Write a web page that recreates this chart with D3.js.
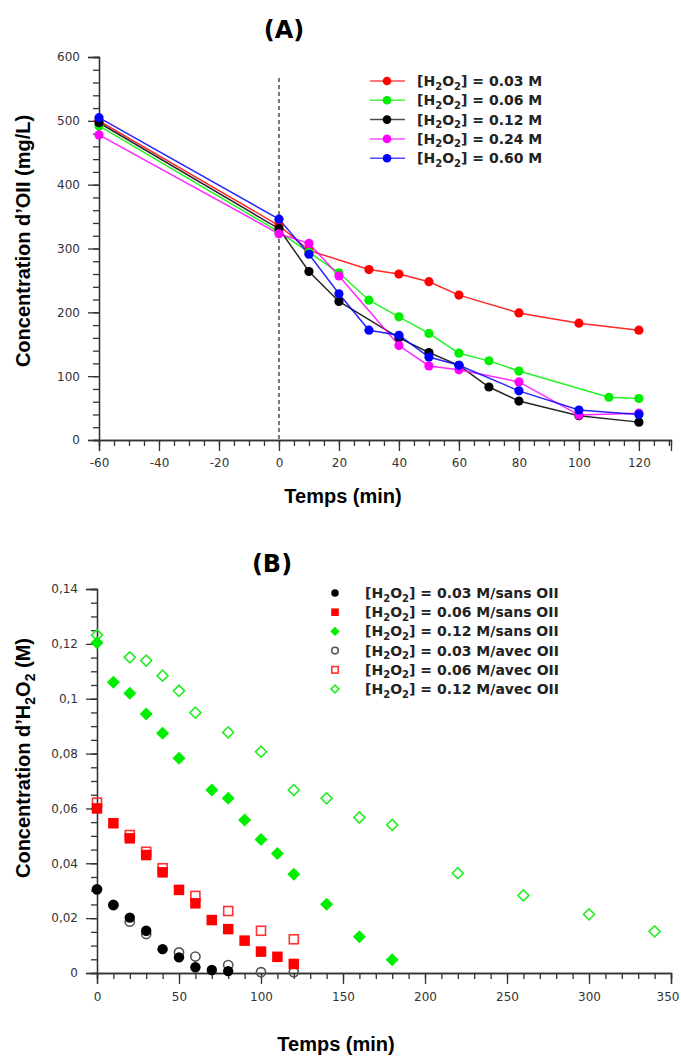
<!DOCTYPE html>
<html><head><meta charset="utf-8">
<script src="https://cdn.jsdelivr.net/npm/d3@7"></script>
<style>
html,body{margin:0;padding:0;background:#fff;}
svg{display:block;}
</style></head>
<body>
<svg id="chart" width="681" height="1058"></svg>
<script>
// ---------- Panel A data ----------
const seriesA = ["[H2O2] = 0.03 M","[H2O2] = 0.06 M","[H2O2] = 0.12 M","[H2O2] = 0.24 M","[H2O2] = 0.60 M"];
const labelsA = ["0.03","0.06","0.12","0.24","0.60"];
const colorsA = ["#ff0000","#00ee00","#000000","#ff00ff","#0000ff"];
const timeRed     = [-60, 0, 10, 30, 40, 50, 60, 80, 100, 120];
const valRed      = [500, 336, 297, 267, 260, 248, 227, 199, 183, 172];
const timeGreen   = [-60, 0, 10, 20, 30, 40, 50, 60, 70, 80, 110, 120];
const valGreen    = [492, 326, 294, 262, 219, 193, 167, 136, 124, 108, 67, 65];
const timeBlack   = [-60, 0, 10, 20, 40, 50, 60, 70, 80, 100, 120];
const valBlack    = [497, 331, 264, 217, 160, 137, 117, 83, 61, 38, 28];
const timeMagenta = [-60, 0, 10, 20, 40, 50, 60, 80, 100, 120];
const valMagenta  = [478, 323, 308, 257, 148, 116, 110, 91, 39, 42];
const timeBlue    = [-60, 0, 10, 20, 30, 40, 50, 60, 80, 100, 120];
const valBlue     = [505, 346, 291, 229, 172, 164, 130, 117, 77, 47, 40];
const xTicksA = [-60, -40, -20, 0, 20, 40, 60, 80, 100, 120];
const yTicksA = [0, 100, 200, 300, 400, 500, 600];

// ---------- Panel B data ----------
const timeSans03 = [0, 10, 20, 30, 40, 50, 60, 70, 80];
const valSans03  = [0.0305, 0.0248, 0.0202, 0.0154, 0.0087, 0.0057, 0.0021, 0.0011, 0.0007];
const timeSans06 = [0, 10, 20, 30, 40, 50, 60, 70, 80, 90, 100, 110, 120];
const valSans06  = [0.0600, 0.0546, 0.0491, 0.0430, 0.0367, 0.0303, 0.0254, 0.0193, 0.0160, 0.0118, 0.0078, 0.0059, 0.0033];
const timeSans12 = [0, 10, 20, 30, 40, 50, 70, 80, 90, 100, 110, 120, 140, 160, 180];
const valSans12  = [0.1204, 0.1060, 0.1020, 0.0944, 0.0874, 0.0783, 0.0667, 0.0637, 0.0558, 0.0487, 0.0436, 0.0360, 0.0251, 0.0132, 0.0048];
const timeAvec03 = [0, 10, 20, 30, 50, 60, 80, 100, 120];
const valAvec03  = [0.0305, 0.0248, 0.0187, 0.0142, 0.0075, 0.0060, 0.0029, 0.0003, 0.0003];
const timeAvec06 = [0, 20, 30, 40, 60, 80, 100, 120];
const valAvec06  = [0.0621, 0.0503, 0.0442, 0.0382, 0.0281, 0.0226, 0.0154, 0.0123];
const timeAvec12 = [0, 20, 30, 40, 50, 60, 80, 100, 120, 140, 160, 180, 220, 260, 300, 340];
const valAvec12  = [0.1232, 0.1151, 0.1139, 0.1084, 0.1029, 0.0949, 0.0877, 0.0807, 0.0667, 0.0637, 0.0567, 0.0540, 0.0364, 0.0283, 0.0214, 0.0152];
const seriesBConc = ["0.03","0.06","0.12","0.03","0.06","0.12"];
const seriesBType = ["sans OII","sans OII","sans OII","avec OII","avec OII","avec OII"];
const xTicksB = [0, 50, 100, 150, 200, 250, 300, 350];
const yTicksB = [0, 0.02, 0.04, 0.06, 0.08, 0.1, 0.12, 0.14];

const svg = d3.select("#chart");
const tickFont = "'DejaVu Sans', Verdana, sans-serif";
const titleFont = "'Liberation Sans', Arial, sans-serif";
const axisColor = "#333";

function styleAxis(g){
  g.select(".domain").attr("stroke", axisColor).attr("stroke-width", 1.3);
  g.selectAll(".tick line").attr("stroke", axisColor).attr("stroke-width", 1.3);
  g.selectAll(".tick text").attr("fill", "#333").style("font-family", tickFont).style("font-size", "12px");
}

function h2o2(sel, prefix, suffix, fs){
  sel.append("tspan").text(prefix + "[H");
  sel.append("tspan").text("2").attr("font-size", fs*0.72).attr("dy", fs*0.25);
  sel.append("tspan").text("O").attr("dy", -fs*0.25);
  sel.append("tspan").text("2").attr("font-size", fs*0.72).attr("dy", fs*0.25);
  sel.append("tspan").text("]" + suffix).attr("dy", -fs*0.25);
}

// ================= PANEL A =================
const xA = d3.scaleLinear().domain([-60, 130.7]).range([99, 671]);
const yA = d3.scaleLinear().domain([0, 600]).range([440, 57]);

const gA = svg.append("g");
gA.append("g").attr("transform", "translate(0,440)")
  .call(d3.axisBottom(xA).tickValues(d3.range(-60, 131, 5)).tickSize(6).tickFormat(""))
  .call(styleAxis);
gA.append("g").attr("transform", "translate(99,0)")
  .call(d3.axisLeft(yA).tickValues(d3.range(0, 601, 20)).tickSize(6).tickFormat(""))
  .call(styleAxis);
gA.append("g").attr("transform", "translate(0,440)")
  .call(d3.axisBottom(xA).tickValues(xTicksA).tickSize(11).tickPadding(7).tickFormat(d => String(d)))
  .call(styleAxis);
gA.append("g").attr("transform", "translate(99,0)")
  .call(d3.axisLeft(yA).tickValues(yTicksA).tickSize(11).tickPadding(8).tickFormat(d => String(d)))
  .call(styleAxis);

gA.append("line")
  .attr("x1", xA(0)).attr("x2", xA(0)).attr("y1", 78).attr("y2", 440)
  .attr("stroke", "#777").attr("stroke-width", 2).attr("stroke-dasharray", "4,3");

const dataA = [
  [timeRed, valRed], [timeGreen, valGreen], [timeBlack, valBlack],
  [timeMagenta, valMagenta], [timeBlue, valBlue]
];
const lineA = d3.line().x(d => xA(d[0])).y(d => yA(d[1]));
dataA.forEach((s, i) => {
  const pts = s[0].map((t, j) => [t, s[1][j]]);
  gA.append("path").datum(pts).attr("d", lineA)
    .attr("fill", "none").attr("stroke", colorsA[i]).attr("stroke-width", 1.5).attr("stroke-opacity", 0.85);
});
dataA.forEach((s, i) => {
  const pts = s[0].map((t, j) => [t, s[1][j]]);
  gA.selectAll(null).data(pts).enter().append("circle")
    .attr("cx", d => xA(d[0])).attr("cy", d => yA(d[1])).attr("r", 4.6)
    .attr("fill", colorsA[i]);
});

labelsA.forEach((lab, i) => {
  const yy = 81 + i * 19.3;
  gA.append("line").attr("x1", 370).attr("x2", 405).attr("y1", yy).attr("y2", yy)
    .attr("stroke", colorsA[i]).attr("stroke-width", 1.5).attr("stroke-opacity", 0.7);
  gA.append("circle").attr("cx", 387).attr("cy", yy).attr("r", 4.3).attr("fill", colorsA[i]);
  const t = gA.append("text").attr("x", 417).attr("y", yy + 5)
    .style("font-family", tickFont).style("font-size", "14px").style("font-weight", "bold").attr("fill", "#222");
  h2o2(t, "", " = " + lab + " M", 14);
});

svg.append("text").attr("x", 284).attr("y", 38).attr("text-anchor", "middle")
  .style("font-family", tickFont).style("font-weight", "bold").style("font-size", "24px").text("(A)");
svg.append("text").attr("x", 343).attr("y", 503).attr("text-anchor", "middle")
  .style("font-family", titleFont).style("font-weight", "bold").style("font-size", "20px").text("Temps (min)");
svg.append("text").attr("transform", "translate(30,241) rotate(-90)").attr("text-anchor", "middle")
  .style("font-family", titleFont).style("font-weight", "bold").style("font-size", "20px")
  .text("Concentration d\u2019OII (mg/L)");

// ================= PANEL B =================
const xB = d3.scaleLinear().domain([0, 350]).range([97, 671]);
const yB = d3.scaleLinear().domain([0, 0.14]).range([973, 589]);
const gB = svg.append("g");
const commaFmt = d => d === 0 ? "0" : String(+d.toFixed(2)).replace(".", ",");

gB.append("g").attr("transform", "translate(0,973)")
  .call(d3.axisBottom(xB).tickValues(d3.range(0, 351, 10)).tickSize(6).tickFormat(""))
  .call(styleAxis);
gB.append("g").attr("transform", "translate(97,0)")
  .call(d3.axisLeft(yB).tickValues(d3.range(0, 28.5, 1).map(k => k * 0.005)).tickSize(6).tickFormat(""))
  .call(styleAxis);
const xAxB = gB.append("g").attr("transform", "translate(0,973)")
  .call(d3.axisBottom(xB).tickValues(xTicksB).tickSize(11).tickPadding(8).tickFormat(d => String(d)))
  .call(styleAxis);
// keep the last label inside the page edge
xAxB.selectAll(".tick text").filter(d => d === 350).attr("dx", -3.5);
gB.append("g").attr("transform", "translate(97,0)")
  .call(d3.axisLeft(yB).tickValues(yTicksB).tickSize(11).tickPadding(8).tickFormat(commaFmt))
  .call(styleAxis);

const sqSide = 10.5, dmSide = 9.2;
const markerDefs = [
  {t: timeSans03, v: valSans03, kind: "circle", fill: "#000", stroke: "none"},
  {t: timeSans06, v: valSans06, kind: "square", fill: "#ff0000", stroke: "none"},
  {t: timeSans12, v: valSans12, kind: "diamond", fill: "#00ee00", stroke: "none"},
  {t: timeAvec03, v: valAvec03, kind: "circle", fill: "none", stroke: "#555"},
  {t: timeAvec06, v: valAvec06, kind: "square", fill: "none", stroke: "#ff3333"},
  {t: timeAvec12, v: valAvec12, kind: "diamond", fill: "none", stroke: "#22ee22"}
];
function drawMarker(g, kind, cx, cy, fill, stroke, scale){
  const filled = stroke === "none";
  if (kind === "circle") {
    g.append("circle").attr("cx", cx).attr("cy", cy).attr("r", (filled ? 5.2 : 4.6) * scale)
      .attr("fill", fill).attr("stroke", stroke).attr("stroke-width", 1.6);
  } else if (kind === "square") {
    const s = (filled ? sqSide : sqSide - 1.5) * scale;
    g.append("rect").attr("x", cx - s/2).attr("y", cy - s/2).attr("width", s).attr("height", s)
      .attr("fill", fill).attr("stroke", stroke).attr("stroke-width", 1.6);
  } else {
    const s = (filled ? dmSide : dmSide - 1.4) * scale;
    g.append("rect").attr("x", -s/2).attr("y", -s/2).attr("width", s).attr("height", s)
      .attr("transform", `translate(${cx},${cy}) rotate(45)`)
      .attr("fill", fill).attr("stroke", stroke).attr("stroke-width", 1.6);
  }
}
[3,4,5,0,1,2].forEach(i => {
  const m = markerDefs[i];
  m.t.forEach((t, j) => drawMarker(gB, m.kind, xB(t), yB(m.v[j]), m.fill, m.stroke, 1));
});

markerDefs.forEach((m, i) => {
  const yy = 593 + i * 19.2;
  drawMarker(gB, m.kind, 335, yy, m.fill, m.stroke, 0.72);
  const t = gB.append("text").attr("x", 365).attr("y", yy + 5)
    .style("font-family", tickFont).style("font-size", "14px").style("font-weight", "bold").attr("fill", "#222");
  h2o2(t, "", " = " + seriesBConc[i] + " M/" + seriesBType[i], 14);
});

svg.append("text").attr("x", 272).attr("y", 572).attr("text-anchor", "middle")
  .style("font-family", tickFont).style("font-weight", "bold").style("font-size", "24px").text("(B)");
svg.append("text").attr("x", 336).attr("y", 1051).attr("text-anchor", "middle")
  .style("font-family", titleFont).style("font-weight", "bold").style("font-size", "20px").text("Temps (min)");
const yt = svg.append("text").attr("transform", "translate(30,758) rotate(-90)").attr("text-anchor", "middle")
  .style("font-family", titleFont).style("font-weight", "bold").style("font-size", "20px");
yt.append("tspan").text("Concentration d\u2019H");
yt.append("tspan").text("2").attr("font-size", 14).attr("dy", 5);
yt.append("tspan").text("O").attr("dy", -5);
yt.append("tspan").text("2").attr("font-size", 14).attr("dy", 5);
yt.append("tspan").text(" (M)").attr("dy", -5);
</script>
</body></html>
